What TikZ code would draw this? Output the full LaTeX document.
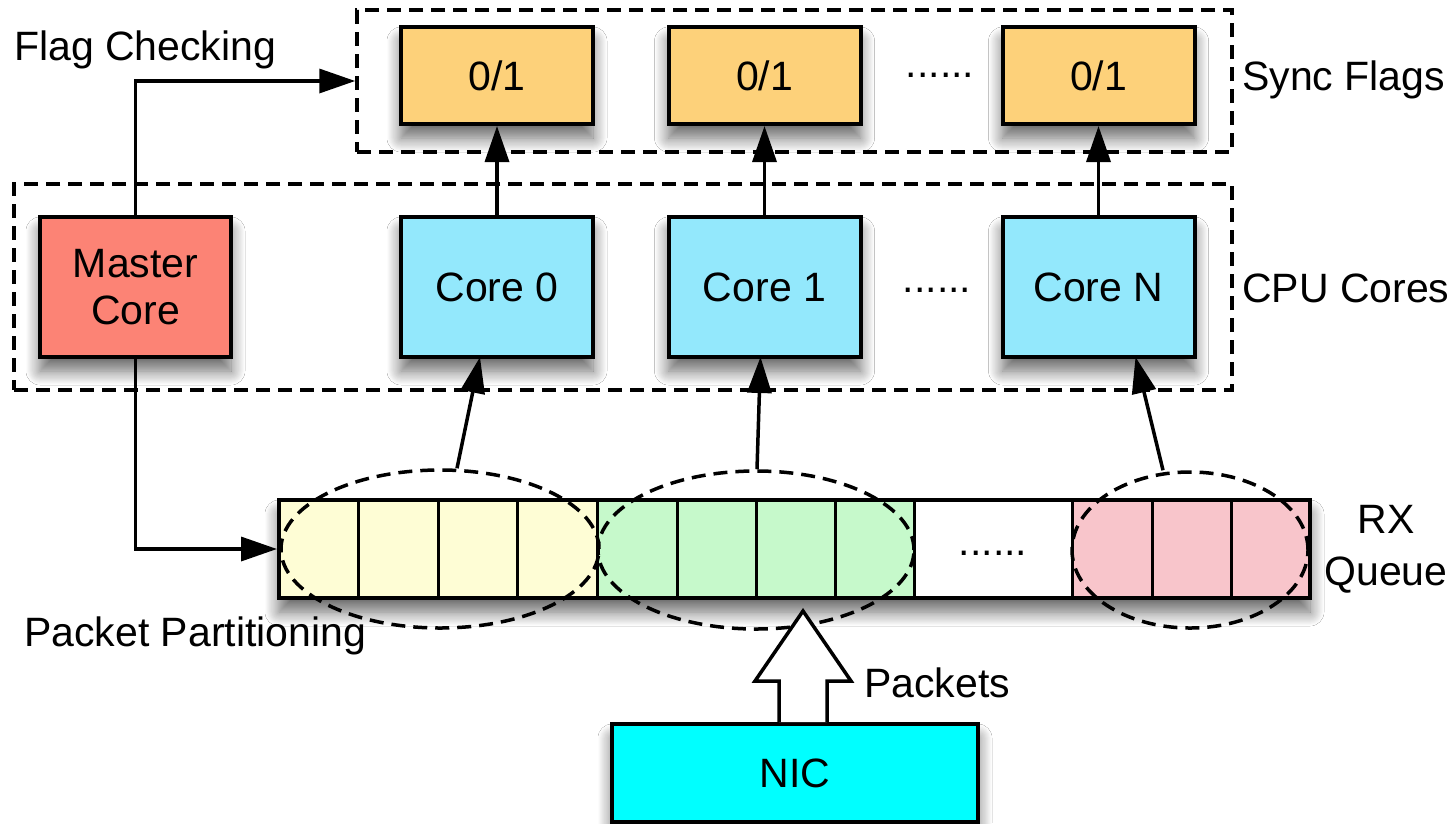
\documentclass[tikz,border=0pt]{standalone}
\usepackage{fontspec}
\setmainfont{Liberation Sans}
\usetikzlibrary{arrows.meta,shapes.geometric,shadows.blur,calc}
\definecolor{flagc}{HTML}{FDD17A}
\definecolor{corec}{HTML}{93E8FC}
\definecolor{masterc}{HTML}{FC8375}
\definecolor{yelc}{HTML}{FEFDD5}
\definecolor{grnc}{HTML}{C6F9CB}
\definecolor{pinkc}{HTML}{F8C5CB}
\definecolor{nicc}{HTML}{00FFFF}
\begin{document}
\begin{tikzpicture}[x=1pt,y=-1pt,
  font=\fontsize{41}{47}\selectfont,
  shade/.style={blur shadow={shadow xshift=0pt,shadow yshift=-14pt,shadow blur radius=14pt,shadow blur steps=14,shadow opacity=60}},
  box/.style={draw, line width=4pt, inner sep=0pt, shade},
  flagbox/.style={box, fill=flagc, minimum width=192, minimum height=97},
  corebox/.style={box, fill=corec, minimum width=192, minimum height=140},
  grp/.style={draw, line width=3.5pt, dash pattern=on 14pt off 8pt, inner sep=0pt},
  grpell/.style={ellipse, draw, line width=3.5pt, dash pattern=on 14pt off 8pt, inner sep=0pt},
  arr/.style={line width=3.5pt, -{Triangle[length=36pt,width=24pt]}},
  cellline/.style={line width=3pt},
  lbl/.style={anchor=west, inner sep=0pt}
]
\useasboundingbox (0,0) rectangle (1455,823);
\fill[white] (0,0) rectangle (1455,823);

% group boxes
\node[grp, minimum width=875, minimum height=142] (sf) at (794.5,81) {};
\node[grp, minimum width=1218, minimum height=206] (cpu) at (623,287) {};

% flags
\node[flagbox] (f0) at (497,75.5) {0/1};
\node[flagbox] (f1) at (764.5,75.5) {0/1};
\node[flagbox] (fn) at (1098.5,75.5) {0/1};
\node[inner sep=0pt] (fdots) at (940,75) {......};

% cores
\node[box, fill=masterc, minimum width=191, minimum height=140, align=center] (mc) at (135.5,287) {Master\\Core};
\node[corebox] (c0) at (497,287) {Core 0};
\node[corebox] (c1) at (764.5,287) {Core 1};
\node[corebox] (cn) at (1098.5,287) {Core N};
\node[inner sep=0pt] (cdots) at (937,290) {......};

% labels
\node[lbl] (lsf) at (1242,80) {Sync Flags};
\node[lbl] (lcpu) at (1242,288) {CPU Cores};
\node[lbl] (lfc) at (14,50) {Flag Checking};
\node[lbl] (lpp) at (24,636) {Packet Partitioning};
\node[lbl] (lpk) at (864,683) {Packets};
\node[inner sep=0pt, align=center, font=\fontsize{41}{52}\selectfont] (lrx) at (1386,549) {RX\\Queue};

% RX queue
\node[box, fill=white, minimum width=1031, minimum height=98] (q) at (794.5,549) {};
\fill[yelc] (279,500) rectangle (597,598);
\fill[grnc] (597,500) rectangle (914,598);
\fill[pinkc] (1072,500) rectangle (1310,598);
\foreach \xx in {358,438,517,597,677,756,835,914,1072,1152,1231}
  \draw[cellline] (\xx,500) -- (\xx,598);
\node[draw, line width=4pt, minimum width=1031, minimum height=98, inner sep=0pt] (qo) at (794.5,549) {};
\node[inner sep=0pt] (qdots) at (993,553) {......};

% partitions
\node[grpell, minimum width=318, minimum height=158] (e1) at (440,549) {};
\node[grpell, minimum width=316, minimum height=158] (e2) at (756,550) {};
\node[grpell, minimum width=236, minimum height=156] (e3) at (1190,550) {};

% connectors
\draw[arr] (c0.north) -- (f0.south);
\draw[arr] (c1.north) -- (f1.south);
\draw[arr] (cn.north) -- (fn.south);
\draw[arr] (mc.north) |- (sf.west);
\draw[arr] (mc.south) |- (qo.west);
\draw[arr] ($(e1.north)+(17,0)$) -- ($(c0.south)+(-17,-2)$);
\draw[arr] ($(e2.north)+(1,0)$) -- ($(c1.south)+(-4,-2)$);
\draw[arr] ($(e3.north)+(-27,0)$) -- ($(cn.south)+(37,-2)$);

% NIC
\node[box, fill=nicc, minimum width=366, minimum height=98] (nic) at (795,773) {NIC};
\coordinate (pb) at ($(nic.north)+(8,0)$);
\draw[line width=3.5pt, fill=white, line join=miter]
  ($(pb)+(-24,0)$) -- ($(pb)+(-24,-41)$) -- ($(pb)+(-48,-41)$) -- ($(pb)+(0,-111)$)
  -- ($(pb)+(48,-41)$) -- ($(pb)+(24,-41)$) -- ($(pb)+(24,0)$);
\end{tikzpicture}
\end{document}
